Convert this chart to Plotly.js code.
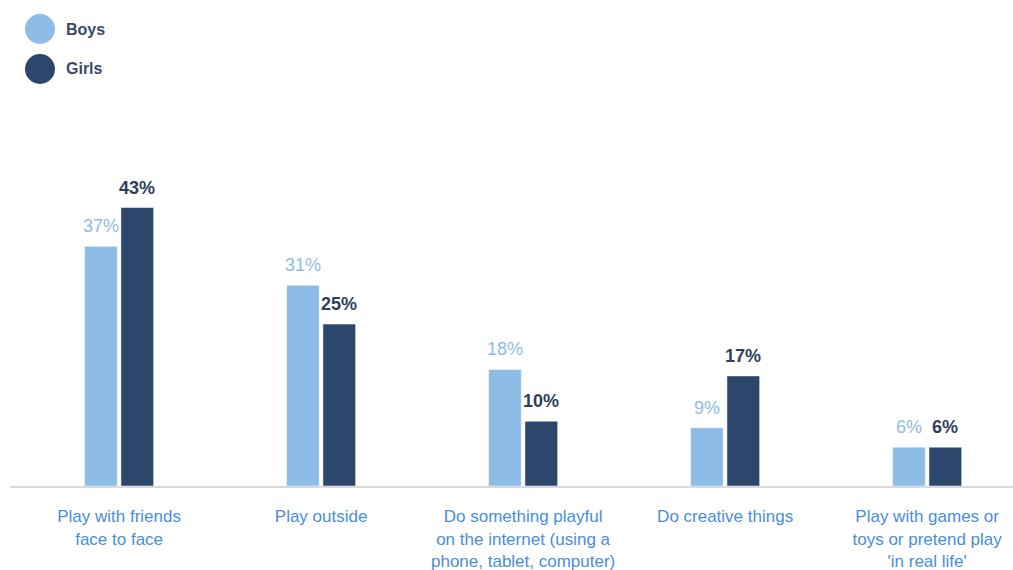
<!DOCTYPE html>
<html>
<head>
<meta charset="utf-8">
<script src="https://cdn.plot.ly/plotly-3.0.1.min.js"></script>
<style>html,body{margin:0;padding:0;background:#fff;}#chart{width:1013px;height:570px;}</style>
</head>
<body>
<div id="chart"></div>
<script>
const categories = [
  "Play with friends<br>face to face",
  "Play outside",
  "Do something playful<br>on the internet (using a<br>phone, tablet, computer)",
  "Do creative things",
  "Play with games or<br>toys or pretend play<br>'in real life'"
];
const seriesNames = ["Boys", "Girls"];
const boys = [37, 31, 18, 9, 6];
const girls = [43, 25, 10, 17, 6];

const boysColor = "#8dbce6";
const girlsColor = "#2c476b";
const fontFam = "'Liberation Sans', Arial, sans-serif";
const xIdx = categories.map((c, i) => i);

const traces = [
  {
    type: "bar", name: seriesNames[0], x: xIdx, y: boys,
    marker: {color: boysColor, line: {color: "#ffffff", width: 0.5}},
    showlegend: false, hoverinfo: "skip"
  },
  {
    type: "bar", name: seriesNames[1], x: xIdx, y: girls,
    marker: {color: girlsColor, line: {color: "#ffffff", width: 0.5}},
    showlegend: false, hoverinfo: "skip"
  }
];

const L = 10, T = 100, B = 84, R = 0;
const W = 1013 - L - R, H = 570 - T - B;
function px2paperX(px) { return (px - L) / W; }
function py2paperY(py) { return (570 - B - py) / H; }

const legendY = [29, 69];
const legendColors = [boysColor, girlsColor];
const shapes = [];
const annotations = [];
seriesNames.forEach((n, i) => {
  shapes.push({
    type: "circle", xref: "paper", yref: "paper",
    xsizemode: "pixel", ysizemode: "pixel",
    xanchor: px2paperX(40), yanchor: py2paperY(legendY[i]),
    x0: -15, x1: 15, y0: -15, y1: 15,
    fillcolor: legendColors[i], line: {width: 0}
  });
  annotations.push({
    xref: "paper", yref: "paper", x: px2paperX(64), y: py2paperY(legendY[i]),
    text: "<b>" + n + "</b>",
    showarrow: false, xanchor: "left", yanchor: "middle",
    font: {size: 16, color: "#3a4a6a", family: fontFam}
  });
});

// value labels above bars
const barOffset = 18.2;
[boys, girls].forEach((vals, s) => {
  vals.forEach((v, i) => {
    annotations.push({
      xref: "x", yref: "y", x: xIdx[i], y: v,
      xshift: s === 0 ? -barOffset : barOffset, yshift: 20,
      text: s === 0 ? v + "%" : "<b>" + v + "%</b>",
      showarrow: false, xanchor: "center", yanchor: "middle",
      font: {size: 18, color: s === 0 ? boysColor : "#2f3f5c", family: fontFam}
    });
  });
});

const layout = {
  width: 1013, height: 570,
  margin: {l: L, r: R, t: T, b: B},
  paper_bgcolor: "#ffffff", plot_bgcolor: "#ffffff",
  barmode: "group", bargap: 0.64, bargroupgap: 0.1,
  showlegend: false,
  font: {family: fontFam},
  xaxis: {
    tickmode: "array", tickvals: xIdx, ticktext: categories,
    range: [-0.54, 4.425],
    showgrid: false, zeroline: false,
    showline: true, linecolor: "#d9d9d9", linewidth: 2,
    ticks: "outside", ticklen: 14, tickcolor: "rgba(0,0,0,0)",
    tickfont: {size: 17, color: "#4a8edb", family: fontFam},
    fixedrange: true
  },
  yaxis: {
    range: [0, 59.6], visible: false, showgrid: false, zeroline: false, fixedrange: true
  },
  shapes: shapes,
  annotations: annotations
};

Plotly.newPlot("chart", traces, layout, {displayModeBar: false, staticPlot: true});
</script>
</body>
</html>
